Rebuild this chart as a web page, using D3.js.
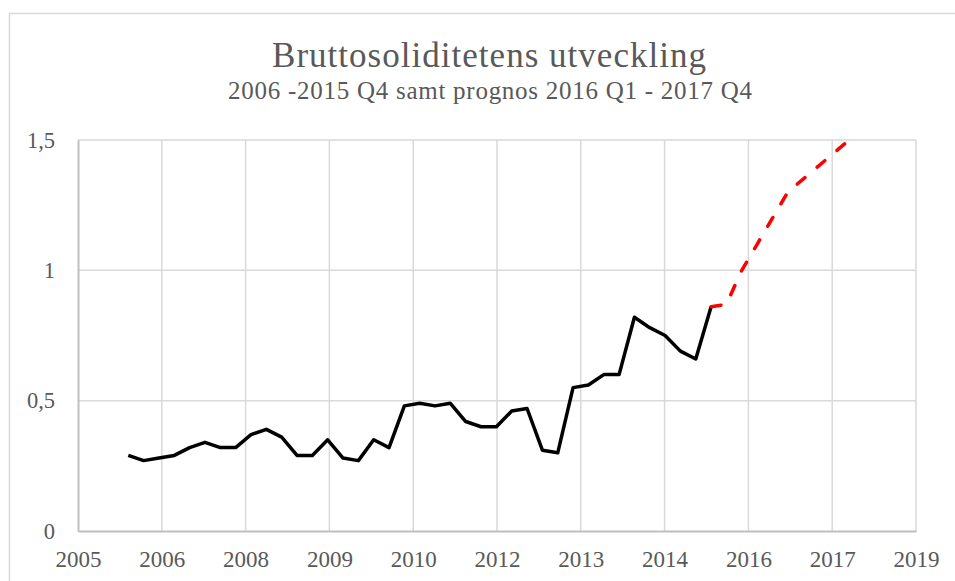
<!DOCTYPE html>
<html>
<head>
<meta charset="utf-8">
<script src="https://cdn.jsdelivr.net/npm/d3@7"></script>
<style>
  body { margin: 0; background: #fff; }
  svg text { font-family: "Liberation Serif", "Times New Roman", serif; fill: #595959; }
</style>
</head>
<body>
<svg id="chart" width="955" height="581"></svg>
<script>
// data
const histQuarters = [
  "2006 Q1","2006 Q2","2006 Q3","2006 Q4","2007 Q1","2007 Q2","2007 Q3","2007 Q4",
  "2008 Q1","2008 Q2","2008 Q3","2008 Q4","2009 Q1","2009 Q2","2009 Q3","2009 Q4",
  "2010 Q1","2010 Q2","2010 Q3","2010 Q4","2011 Q1","2011 Q2","2011 Q3","2011 Q4",
  "2012 Q1","2012 Q2","2012 Q3","2012 Q4","2013 Q1","2013 Q2","2013 Q3","2013 Q4",
  "2014 Q1","2014 Q2","2014 Q3","2014 Q4","2015 Q1","2015 Q2","2015 Q3"
];
const histValues = [
  0.29, 0.27, 0.28, 0.29, 0.32, 0.34, 0.32, 0.32,
  0.37, 0.39, 0.36, 0.29, 0.29, 0.35, 0.28, 0.27,
  0.35, 0.32, 0.48, 0.49, 0.48, 0.49, 0.42, 0.40,
  0.40, 0.46, 0.47, 0.31, 0.30, 0.55, 0.56, 0.60,
  0.60, 0.82, 0.78, 0.75, 0.69, 0.66, 0.86
];
const forecastQuarters = [
  "2015 Q3","2015 Q4","2016 Q1","2016 Q2","2016 Q3","2016 Q4",
  "2017 Q1","2017 Q2","2017 Q3","2017 Q4"
];
const forecastValues = [0.86, 0.87, 1.00, 1.10, 1.20, 1.30, 1.35, 1.40, 1.45, 1.50];

const xTickLabels = ["2005","2006","2008","2009","2010","2012","2013","2014","2016","2017","2019"];
const yTicks = [0, 0.5, 1, 1.5];

const title = "Bruttosoliditetens utveckling";
const subtitle = "2006 -2015 Q4 samt prognos 2016 Q1 - 2017 Q4";

// layout
const W = 955, H = 581;
const margin = {left: 78, right: 39, top: 140, bottom: 50};
const xMin = 2005.18, xMax = 2018.84;

const svg = d3.select("#chart");

// outer chart border
svg.append("rect")
  .attr("x", 9.5).attr("y", 13.5)
  .attr("width", W).attr("height", H)
  .attr("fill", "none")
  .attr("stroke", "#d9d9d9")
  .attr("stroke-width", 1.5);

const toYear = q => +q.slice(0, 4) + (+q.slice(-1) - 1) / 4;

const x = d3.scaleLinear()
  .domain([xMin, xMax])
  .range([margin.left, W - margin.right]);
const y = d3.scaleLinear()
  .domain([0, 1.5])
  .range([H - margin.bottom, margin.top]);

const xTickVals = d3.range(xTickLabels.length)
  .map(i => xMin + i * (xMax - xMin) / (xTickLabels.length - 1));

// gridlines
svg.append("g")
  .selectAll("line.v")
  .data(xTickVals.slice(1))
  .join("line")
  .attr("x1", d => x(d)).attr("x2", d => x(d))
  .attr("y1", y(0)).attr("y2", y(1.5))
  .attr("stroke", "#d9d9d9").attr("stroke-width", 1.5);

svg.append("g")
  .selectAll("line.h")
  .data(yTicks.slice(1))
  .join("line")
  .attr("x1", x(xMin)).attr("x2", x(xMax))
  .attr("y1", d => y(d)).attr("y2", d => y(d))
  .attr("stroke", "#d9d9d9").attr("stroke-width", 1.5);

// axes
const gx = svg.append("g")
  .attr("transform", `translate(0,${y(0)})`)
  .call(d3.axisBottom(x)
    .tickValues(xTickVals)
    .tickSize(0)
    .tickPadding(20)
    .tickFormat((d, i) => xTickLabels[i]));
gx.select(".domain").attr("stroke", "#bfbfbf").attr("stroke-width", 2);
gx.selectAll("text").attr("font-size", 23).attr("dy", "0.71em");

const gy = svg.append("g")
  .attr("transform", `translate(${x(xMin)},0)`)
  .call(d3.axisLeft(y)
    .tickValues(yTicks)
    .tickSize(0)
    .tickPadding(23)
    .tickFormat(d => String(d).replace(".", ",")));
gy.select(".domain").attr("stroke", "#bfbfbf").attr("stroke-width", 2);
gy.selectAll("text").attr("font-size", 22.5);

// lines
const line = d3.line()
  .x(d => x(toYear(d[0])))
  .y(d => y(d[1]));

svg.append("path")
  .datum(d3.zip(histQuarters, histValues))
  .attr("d", line)
  .attr("fill", "none")
  .attr("stroke", "#000")
  .attr("stroke-width", 3.5)
  .attr("stroke-linejoin", "round");

svg.append("path")
  .datum(d3.zip(forecastQuarters, forecastValues))
  .attr("d", line)
  .attr("fill", "none")
  .attr("stroke", "#ff0000")
  .attr("stroke-width", 3.5)
  .attr("stroke-linecap", "round")
  .attr("stroke-dasharray", "10,16");

// titles
svg.append("text")
  .attr("x", 489).attr("y", 67)
  .attr("text-anchor", "middle")
  .attr("font-size", 35)
  .attr("textLength", 434)
  .attr("lengthAdjust", "spacing")
  .text(title);

svg.append("text")
  .attr("x", 490).attr("y", 99)
  .attr("text-anchor", "middle")
  .attr("font-size", 25)
  .attr("textLength", 524)
  .attr("lengthAdjust", "spacing")
  .text(subtitle);
</script>
</body>
</html>
